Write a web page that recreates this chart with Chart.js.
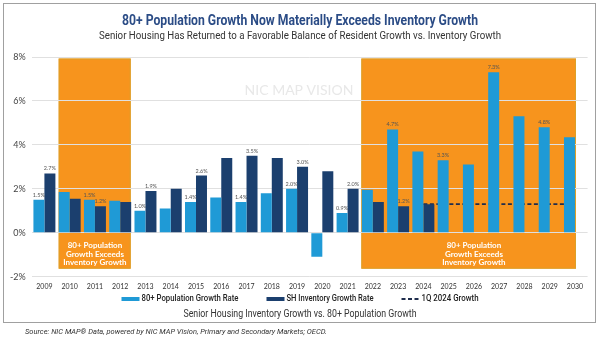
<!DOCTYPE html>
<html>
<head>
<meta charset="utf-8">
<script src="https://cdn.jsdelivr.net/npm/chart.js@4.4.1/dist/chart.umd.min.js"></script>
<style>
html,body{margin:0;padding:0;background:#fff}
#wrap{position:relative;width:600px;height:340px}
</style>
</head>
<body>
<div id="wrap"><canvas id="c" width="600" height="340"></canvas></div>
<script>
const years = ['2009','2010','2011','2012','2013','2014','2015','2016','2017','2018','2019',
	'2020','2021','2022','2023','2024','2025','2026','2027','2028','2029','2030'];
const popGrowth = [1.5,1.85,1.5,1.45,1.0,1.1,1.4,1.6,1.4,1.8,2.0,-1.1,0.9,1.95,4.7,3.7,3.3,3.1,7.3,5.3,4.8,4.35];
const invGrowth = [2.7,1.55,1.2,1.4,1.9,2.0,2.6,3.4,3.5,3.4,3.0,2.8,2.0,1.4,1.2,1.3,null,null,null,null,null,null];
const q1Growth = [null,null,null,null,null,null,null,null,null,null,null,null,null,null,null,
	1.3,1.3,1.3,1.3,1.3,1.3,1.3];
const labelledYears = ['2009','2011','2013','2015','2017','2019','2021','2023','2025','2027','2029'];
const shadedRanges = [['2010','2012'],['2022','2030']];
const shadedText = ['80+ Population','Growth Exceeds','Inventory Growth'];
const seriesNames = ['80+ Population Growth Rate','SH Inventory Growth Rate','1Q 2024 Growth'];

const POP = '#1f9ad6', INV = '#1b3f6e', DASH = '#1f2d4d', ORANGE = '#f7941d';

// draws text squeezed horizontally to a given width (the original uses condensed faces)
function fitText(ctx, text, x, y, font, w, align){
	ctx.save();
	ctx.font = font;
	const m = ctx.measureText(text).width;
	const s = Math.min(1, w / m);
	ctx.textAlign = 'left';
	ctx.textBaseline = 'middle';
	const left = align === 'center' ? x - m * s / 2 : x;
	ctx.translate(left, y);
	ctx.scale(s, 1);
	ctx.fillText(text, 0, 0);
	ctx.restore();
	return m * s;
}

const decor = {
	id: 'decor',
	beforeDraw(chart){
		const {ctx, scales:{x, y}} = chart;
		ctx.save();
		ctx.fillStyle = '#e8e8e8';
		ctx.font = '14px Lato';
		ctx.textAlign = 'center';
		ctx.textBaseline = 'middle';
		ctx.fillText('NIC MAP VISION', 299, 90);
		const edges = [[-11, 10.5], [-11.5, 1]];
		shadedRanges.forEach((r, k) => {
			const x1 = x.getPixelForValue(years.indexOf(r[0])) + edges[k][0];
			const x2 = x.getPixelForValue(years.indexOf(r[1])) + edges[k][1];
			const y1 = y.getPixelForValue(7.93), y2 = y.getPixelForValue(-1.64);
			ctx.fillStyle = ORANGE;
			ctx.fillRect(x1, y1, x2 - x1, y2 - y1);
			ctx.strokeStyle = '#dba12a';
			ctx.lineWidth = 1;
			ctx.strokeRect(x1 + 0.5, y1 + 0.5, x2 - x1 - 1, y2 - y1 - 1);
			const cx = (x.getPixelForValue(years.indexOf(r[0])) + x.getPixelForValue(years.indexOf(r[1]))) / 2;
			ctx.fillStyle = '#fff';
			ctx.font = 'bold 8px Lato';
			shadedText.forEach((t, i) => ctx.fillText(t, cx, y2 - 23 + i * 8.6));
		});
		ctx.restore();
	},
	afterDatasetsDraw(chart){
		const {ctx} = chart;
		ctx.save();
		ctx.font = '5.5px Lato';
		ctx.fillStyle = '#555';
		ctx.textAlign = 'center';
		ctx.textBaseline = 'bottom';
		[0, 1].forEach(di => {
			const meta = chart.getDatasetMeta(di);
			const vals = chart.data.datasets[di].data;
			meta.data.forEach((bar, i) => {
				if (vals[i] == null || !labelledYears.includes(years[i])) return;
				ctx.fillText(vals[i].toFixed(1) + '%', bar.x, bar.y - 2);
			});
		});
		ctx.restore();
	},
	afterDraw(chart){
		const {ctx} = chart;
		ctx.save();
		// title + subtitle
		ctx.fillStyle = '#2b4c86';
		fitText(ctx, '80+ Population Growth Now Materially Exceeds Inventory Growth', 300, 21,
			'bold 14px Roboto', 356, 'center');
		ctx.fillStyle = '#333';
		fitText(ctx, 'Senior Housing Has Returned to a Favorable Balance of Resident Growth vs. Inventory Growth',
			300, 36.5, '11px Roboto', 402, 'center');
		// legend
		const textW = [97, 87, 57];
		const gap = 28, sw = 18, tg = 2, ly = 299;
		let lx = 300 - (textW.reduce((s, w) => s + w + sw + tg, 0) + gap * 2) / 2;
		seriesNames.forEach((n, i) => {
			if (i < 2) {
				ctx.fillStyle = i === 0 ? POP : INV;
				ctx.fillRect(lx, ly - 2, sw, 4);
			} else {
				ctx.strokeStyle = DASH;
				ctx.lineWidth = 2;
				ctx.setLineDash([4, 2.5]);
				ctx.beginPath();
				ctx.moveTo(lx, ly); ctx.lineTo(lx + sw, ly);
				ctx.stroke();
				ctx.setLineDash([]);
			}
			ctx.fillStyle = '#222';
			fitText(ctx, n, lx + sw + tg, ly, '500 9px Roboto', textW[i], 'left');
			lx += sw + tg + textW[i] + gap;
		});
		// caption
		ctx.fillStyle = '#333';
		fitText(ctx, 'Senior Housing Inventory Growth vs. 80+ Population Growth', 300, 314,
			'10.5px Roboto', 233, 'center');
		// frame
		ctx.strokeStyle = '#a0a0a0';
		ctx.lineWidth = 1;
		ctx.strokeRect(3.5, 3.5, 592, 319);
		// source
		ctx.fillStyle = '#333';
		fitText(ctx, 'Source: NIC MAP\u00AE Data, powered by NIC MAP Vision, Primary and Secondary Markets; OECD.',
			25, 332, 'italic 8px Roboto', 302, 'left');
		ctx.restore();
	}
};

new Chart(document.getElementById('c'), {
	data: {
		labels: years,
		datasets: [
			{ type: 'bar', label: seriesNames[0], data: popGrowth, backgroundColor: POP,
				categoryPercentage: 0.87, barPercentage: 1 },
			{ type: 'bar', label: seriesNames[1], data: invGrowth, backgroundColor: INV,
				categoryPercentage: 0.87, barPercentage: 1 },
			{ type: 'line', label: seriesNames[2], data: q1Growth, borderColor: DASH, borderWidth: 1.8,
				borderDash: [4, 2.5], pointRadius: 0, fill: false }
		]
	},
	options: {
		responsive: false,
		animation: false,
		devicePixelRatio: 1,
		layout: { padding: { left: 4, right: 12.4, top: 57, bottom: 43 } },
		plugins: {
			legend: { display: false },
			tooltip: { enabled: false }
		},
		scales: {
			x: {
				grid: { display: false, drawTicks: false },
				border: { display: false },
				ticks: { color: '#333', font: { family: 'Lato', size: 7 }, padding: 6,
					autoSkip: false, maxRotation: 0 }
			},
			y: {
				min: -2, max: 8,
				grid: { color: '#e0e0e0', drawTicks: false },
				border: { display: false },
				ticks: { stepSize: 2, color: '#444', font: { family: 'Lato', size: 9 }, padding: 6,
					callback: v => v + '%' }
			}
		}
	},
	plugins: [decor]
});
</script>
</body>
</html>
